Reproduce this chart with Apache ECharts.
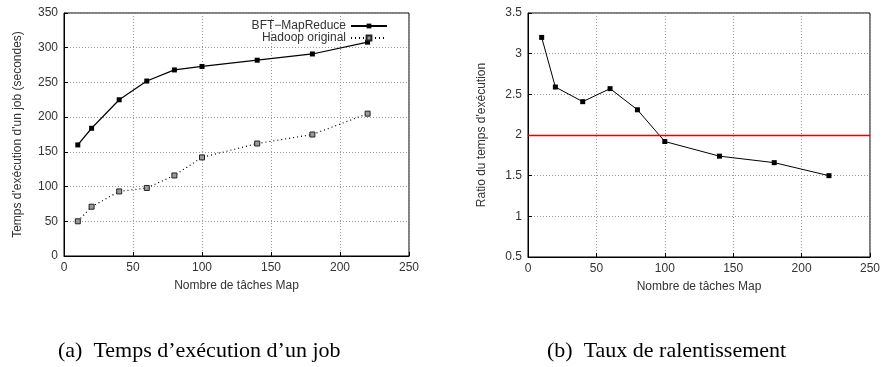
<!DOCTYPE html>
<html>
<head>
<meta charset="utf-8">
<script src="https://cdn.jsdelivr.net/npm/echarts@6/dist/echarts.min.js"></script>
<style>
  html, body { margin: 0; padding: 0; background: #fff; }
  #main { width: 883px; height: 367px; }
</style>
</head>
<body>
<div id="main"></div>
<script>
// Map task counts (x values)
const mapTasks = [10, 20, 40, 60, 80, 100, 140, 180, 220];
// (a) job execution time in seconds
const bftTimes = [160, 184, 225, 252, 268, 273, 282, 291, 308];
const hadoopTimes = [50, 71, 93, 98, 116, 142, 162, 175, 205];
// (b) slowdown ratio
const ratios = [3.2, 2.59, 2.41, 2.57, 2.31, 1.92, 1.74, 1.66, 1.5];
const refRatio = 2;

function pairs(ys) {
  return mapTasks.map((x, i) => [x, ys[i]]);
}

const FONT = 'Liberation Sans';
const gridLine = { show: true, lineStyle: { color: '#999', type: [1, 2], width: 1 } };

function xAxis(gridIndex) {
  return {
    type: 'value', gridIndex, min: 0, max: 250, interval: 50,
    name: 'Nombre de tâches Map', nameLocation: 'middle', nameGap: 24,
    nameTextStyle: { fontFamily: FONT, fontSize: 12, color: '#333' },
    axisLine: { show: true, lineStyle: { color: '#000' } },
    axisTick: { inside: true, length: 4, lineStyle: { color: '#000' } },
    axisLabel: { fontFamily: FONT, fontSize: 12, color: '#333', margin: 6 },
    splitLine: gridLine
  };
}

function yAxis(gridIndex, opts) {
  return Object.assign({
    type: 'value', gridIndex,
    nameLocation: 'middle',
    nameTextStyle: { fontFamily: FONT, fontSize: 12, color: '#333' },
    axisLine: { show: true, lineStyle: { color: '#000' } },
    axisTick: { inside: true, length: 4, lineStyle: { color: '#000' } },
    axisLabel: { fontFamily: FONT, fontSize: 12, color: '#333', margin: 6 },
    splitLine: gridLine
  }, opts);
}

const chart = echarts.init(document.getElementById('main'));

chart.setOption({
  backgroundColor: '#fff',
  animation: false,
  grid: [
    { left: 64, top: 13, width: 345, height: 243, show: true, borderColor: '#000', borderWidth: 1 },
    { left: 528, top: 13, width: 344, height: 244, show: true, borderColor: '#000', borderWidth: 1 }
  ],
  xAxis: [xAxis(0), xAxis(1)],
  yAxis: [
    yAxis(0, { min: 0, max: 350, interval: 50, name: "Temps d'exécution d'un job (secondes)", nameGap: 40 }),
    yAxis(1, { min: 0.5, max: 3.5, interval: 0.5, name: "Ratio du temps d'exécution", nameGap: 40 })
  ],
  legend: {
    right: 490, top: 15, orient: 'vertical', align: 'right',
    itemWidth: 36, itemHeight: 6, itemGap: 0,
    textStyle: { fontFamily: FONT, fontSize: 12, lineHeight: 11, color: '#333' },
    data: ['BFT−MapReduce', 'Hadoop original']
  },
  series: [
    {
      name: 'BFT−MapReduce', type: 'line', xAxisIndex: 0, yAxisIndex: 0,
      data: pairs(bftTimes), symbol: 'rect', symbolSize: 5,
      lineStyle: { color: '#000', width: 1.2 },
      itemStyle: { color: '#000' }
    },
    {
      name: 'Hadoop original', type: 'line', xAxisIndex: 0, yAxisIndex: 0,
      data: pairs(hadoopTimes), symbol: 'rect', symbolSize: 5,
      lineStyle: { color: '#000', width: 1.2, type: [1, 3] },
      itemStyle: { color: '#999', borderColor: '#222', borderWidth: 1 }
    },
    {
      name: 'Ratio', type: 'line', xAxisIndex: 1, yAxisIndex: 1,
      data: pairs(ratios), symbol: 'rect', symbolSize: 5,
      lineStyle: { color: '#000', width: 1 },
      itemStyle: { color: '#000' },
      markLine: {
        silent: true, symbol: 'none', label: { show: false },
        data: [{ yAxis: refRatio, lineStyle: { color: '#e00', width: 1.3, type: 'solid' } }]
      }
    }
  ],
  graphic: [
    { type: 'text', left: 58, top: 340, style: { text: "(a)  Temps d’exécution d’un job", font: '22px "Liberation Serif"', fill: '#000' } },
    { type: 'text', left: 547, top: 340, style: { text: '(b)  Taux de ralentissement', font: '22px "Liberation Serif"', fill: '#000' } }
  ]
});
</script>
</body>
</html>
